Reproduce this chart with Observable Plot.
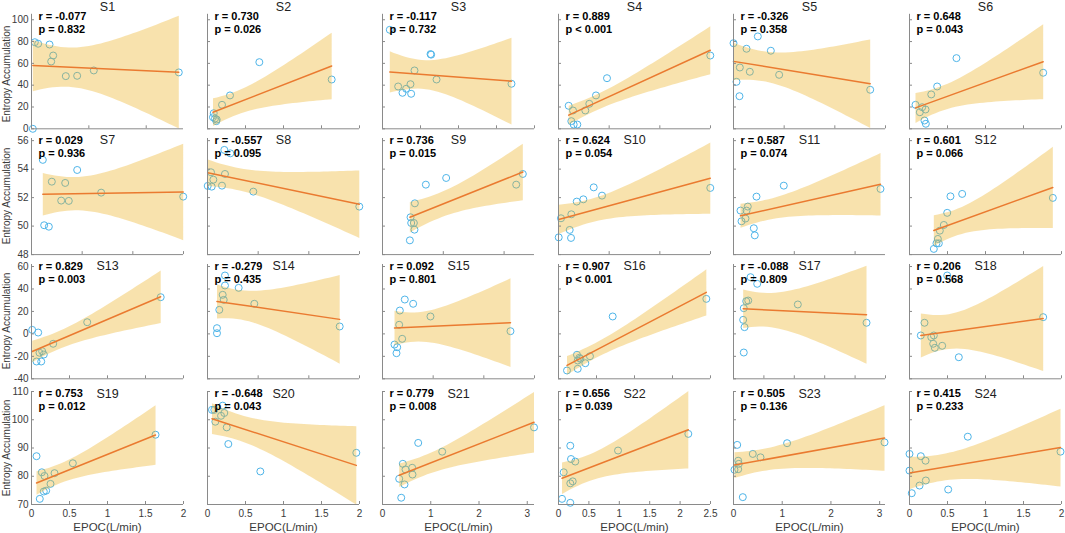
<!DOCTYPE html>
<html><head><meta charset="utf-8">
<script src="https://cdn.jsdelivr.net/npm/d3@7"></script>
<script src="https://cdn.jsdelivr.net/npm/@observablehq/plot@0.6"></script>
<style>
body{margin:0;background:#fff;}
#chart{position:relative;width:1065px;height:533px;overflow:hidden;background:#fff;}
#chart svg{position:absolute;overflow:visible;background:transparent;}
.ylab{position:absolute;left:1px;writing-mode:vertical-rl;transform:translateY(-50%) rotate(180deg);font-family:'Liberation Sans',Arial,Helvetica,sans-serif;font-size:10px;line-height:12px;color:#3a3a3a;white-space:nowrap;}
</style></head><body><div id="chart"></div>
<script>
const subjects = ["S1","S2","S3","S4","S5","S6","S7","S8","S9","S10","S11","S12","S13","S14","S15","S16","S17","S18","S19","S20","S21","S22","S23","S24"];
const rValues = [-0.077,0.730,-0.117,0.889,-0.326,0.648,0.029,-0.557,0.736,0.624,0.587,0.601,0.829,-0.279,0.092,0.907,-0.088,0.206,0.753,-0.648,0.779,0.656,0.505,0.415];
const pValues = ["= 0.832","= 0.026","= 0.732","< 0.001","= 0.358","= 0.043","= 0.936","= 0.095","= 0.015","= 0.054","= 0.074","= 0.066","= 0.003","= 0.435","= 0.801","< 0.001","= 0.809","= 0.568","= 0.012","= 0.043","= 0.008","= 0.039","= 0.136","= 0.233"];
const xMax = [2.65,2,2,3,3,2, 3,3,2.5,3,2.5,2, 2,3,3,2,2.5,2, 2,2,3.15,2.5,3.12,2];
const xTickSets = [
  [0,1,2],[0,0.5,1,1.5,2],[0,0.5,1,1.5,2],[0,1,2,3],[0,1,2,3],[0,0.5,1,1.5,2],
  [0,1,2,3],[0,1,2,3],[0,1,2],[0,1,2,3],[0,1,2],[0,0.5,1,1.5,2],
  [0,0.5,1,1.5,2],[0,1,2,3],[0,1,2,3],[0,0.5,1,1.5,2],[0,0.5,1,1.5,2,2.5],[0,0.5,1,1.5,2],
  [0,0.5,1,1.5,2],[0,0.5,1,1.5,2],[0,1,2,3],[0,0.5,1,1.5,2,2.5],[0,1,2,3],[0,0.5,1,1.5,2]
];
const rowYDomains = [[0,105],[48,56.15],[-40,61.8],[70,110]];
const rowYTicks = [[0,20,40,60,80,100],[48,50,52,54,56],[-40,-20,0,20,40,60],[70,80,90,100,110]];
const yLabel = "Entropy Accumulation";
const xLabel = "EPOC(L/min)";

const s1x = [0.058,0.116,0.314,0.378,0.343,0.598,0.796,1.086,2.568,0.023];
const s1y = [79.4,78.0,77.3,67.2,61.7,48.3,48.6,53.5,51.7,0];
const s2x = [0.682,1.634,0.296,0.191,0.082,0.072,0.121,0.116,0.099];
const s2y = [61.1,45.2,30.6,22.0,14.3,10.6,8.5,7.0,9.4];
const s3x = [0.632,0.640,0.421,0.711,1.697,0.206,0.311,0.368,0.263,0.377,0.096];
const s3y = [68.5,68.0,53.5,45.2,41.3,38.8,36.7,40.9,33.0,32.1,90.8];
const s4x = [2.996,0.957,0.74,0.608,0.529,0.201,0.286,0.253,0.3,0.371];
const s4y = [67.2,46.4,30.6,22.9,16.8,21.1,16.8,7.0,3.9,3.9];
const s5x = [0,0.48,0.257,0.737,0.125,0.322,0.901,0.059,0.118,2.698];
const s5y = [78.5,84.7,73.4,71.6,56.2,52.3,49.5,43.1,29.9,35.8];
const s6x = [0.618,1.759,0.364,0.286,0.079,0.167,0.211,0.136,0.197,0.215];
const s6y = [64.8,51.4,38.8,31.5,22.0,19.8,17.7,15.2,7.6,4.6];
const s7x = [0.223,0.902,0.401,0.665,1.375,0.586,0.736,2.994,0.25,0.342];
const s7y = [54.65,53.94,53.12,53.03,52.35,51.79,51.77,52.07,50.06,49.96];
const s8x = [0.332,0.45,0.069,0.345,0.115,0.004,0.083,0.286,0.904,2.996];
const s8y = [55.35,55.11,53.78,53.66,53.26,52.82,52.77,52.84,52.42,51.37];
const s9x = [2.308,2.199,1.047,0.713,0.532,0.461,0.472,0.516,0.526,0.45];
const s9y = [53.66,52.91,53.38,52.91,51.6,50.62,50.22,50.22,49.75,49.0];
const s10x = [2.996,0.695,0.859,0.49,0.36,0.253,0.049,0.221,0.004,0.247];
const s10y = [52.68,52.72,52.14,51.88,51.72,50.83,50.55,49.73,49.21,49.17];
const s11x = [2.418,0.827,0.378,0.235,0.115,0.214,0.132,0.197,0.334,0.35];
const s11y = [52.61,52.84,52.07,51.37,51.09,51.09,50.34,50.53,49.85,49.35];
const s12x = [1.886,0.539,0.693,0.496,0.452,0.399,0.373,0.355,0.386,0.32];
const s12y = [51.98,52.09,52.26,50.93,50.08,49.68,49.1,48.79,48.79,48.4];
const s13x = [1.70,0.733,0.009,0.088,0.285,0.105,0.14,0.162,0.066,0.128];
const s13y = [32.7,10.4,3.6,1.2,-8.8,-16.8,-15.4,-18.4,-24.6,-24.6];
const s14x = [0.345,0.345,0.615,0.3,0.32,0.233,0.924,0.187,0.187,2.609];
const s14y = [52.0,43.1,41.0,34.8,30.3,21.4,26.8,5.1,0.6,6.6];
const s15x = [0.44,0.605,0.342,0.947,0.329,2.526,0.388,0.237,0.29,0.276];
const s15y = [30.6,26.8,20.8,15.5,8.1,2.4,-4.4,-9.5,-11.9,-17.2];
const s16x = [1.945,0.713,0.243,0.274,0.414,0.253,0.353,0.253,0.112,0.287];
const s16y = [31.2,15.5,-18.6,-21.3,-19.9,-23.7,-26.1,-31.1,-32.6,-22.2];
const s17x = [0.28,0.39,0.209,0.242,1.058,0.169,0.159,0.181,2.188,0.169];
const s17y = [50.5,44.6,29.1,29.7,26.2,22.9,12.5,6.0,9.9,-16.6];
const s18x = [0.496,1.759,0.197,0.149,0.286,0.32,0.312,0.333,0.43,0.649];
const s18y = [52.0,14.9,9.9,-1.4,-2.9,-1.4,-8.8,-12.4,-10.6,-20.8];
const s19x = [1.632,0.544,0.066,0.136,0.171,0.303,0.25,0.162,0.193,0.109];
const s19y = [94.7,84.6,87.1,81.4,80.1,81.1,77.3,74.6,74.9,72.0];
const s20x = [0.059,0.09,0.2,0.221,0.178,0.103,0.253,0.274,0.695,1.958];
const s20y = [103.5,103.5,105.0,102.4,101.4,99.3,97.3,91.4,81.7,88.3];
const s21x = [3.14,0.74,1.237,0.421,0.477,0.615,0.622,0.346,0.456,0.388];
const s21y = [97.3,91.8,88.7,84.4,82.4,83.0,80.6,79.1,77.1,72.4];
const s22x = [2.135,0.979,0.194,0.206,0.276,0.086,0.194,0.234,0.058,0.194];
const s22y = [95.0,89.1,90.8,86.1,85.2,81.4,77.5,78.2,72.0,70.6];
const s23x = [3.10,1.10,0.076,0.396,0.554,0.096,0.109,0.02,0.096,0.191];
const s23y = [92.0,91.7,91.1,87.9,86.7,85.5,84.4,82.3,82.5,72.6];
const s24x = [1.987,0.767,0,0.149,0.211,0,0.215,0.132,0.509,0.03];
const s24y = [88.7,94.0,87.9,87.1,85.5,82.0,78.5,76.7,75.3,74.0];

const xsAll = [s1x,s2x,s3x,s4x,s5x,s6x,s7x,s8x,s9x,s10x,s11x,s12x,s13x,s14x,s15x,s16x,s17x,s18x,s19x,s20x,s21x,s22x,s23x,s24x];
const ysAll = [s1y,s2y,s3y,s4y,s5y,s6y,s7y,s8y,s9y,s10y,s11y,s12y,s13y,s14y,s15y,s16y,s17y,s18y,s19y,s20y,s21y,s22y,s23y,s24y];

// layout (pixels)
const colX = [31, 206.5, 382, 557.5, 733, 909];
const panelW = 152;
const rowTop = [13.8, 137.9, 264, 391];
const rowH = [114.5, 116.1, 114.3, 113];

const FONT = "'Liberation Sans', Arial, Helvetica, sans-serif";
const axisColor = "#8a8a8a";
const labelColor = "#3a3a3a";
const chart = document.getElementById("chart");

subjects.forEach((name, i) => {
  const row = Math.floor(i / 6), col = i % 6;
  const data = xsAll[i].map((x, k) => ({x, y: ysAll[i][k]}));
  const mL = col === 0 ? 31 : 10, mR = 10, mT = row === 0 ? 13.8 : 16, mB = row === 3 ? 34 : 8;
  const yd = rowYDomains[row];
  const marks = [
    Plot.dot(data, {x: "x", y: "y", r: 3.5, stroke: "#4db4e8", strokeWidth: 1, fill: "none"}),
    Plot.linearRegressionY(data, {x: "x", y: "y", stroke: "#ea7a30", strokeWidth: 1.5, fill: "#EDB120", fillOpacity: 0.37}),
    Plot.ruleX([0], {stroke: axisColor, strokeWidth: 1}),
    Plot.ruleY([yd[0]], {stroke: axisColor, strokeWidth: 1}),
    Plot.axisY({ticks: rowYTicks[row], tickSize: -3, stroke: axisColor, fill: "none", label: null}),
    Plot.axisX({ticks: xTickSets[i], tickSize: -3, stroke: axisColor, fill: "none", label: null}),
    Plot.text([`r = ${rValues[i].toFixed(3)}`], {text: d => d, frameAnchor: "top-left", dx: 7, dy: 2, lineAnchor: "middle", textAnchor: "start", fontWeight: "bold", fontSize: 11, fill: "#000"}),
    Plot.text([`p ${pValues[i]}`], {text: d => d, frameAnchor: "top-left", dx: 7, dy: 15, lineAnchor: "middle", textAnchor: "start", fontWeight: "bold", fontSize: 11, fill: "#000"}),
    Plot.text([name], {text: d => d, frameAnchor: "top", dy: row === 0 ? -7.5 : 2, lineAnchor: "middle", fontSize: 12.5, fill: "#222"})
  ];
  if (col === 0) {
    marks.push(Plot.axisY({ticks: rowYTicks[row], tickSize: 0, tickPadding: 3, tickFormat: d => String(d), fill: labelColor, stroke: "none", fontSize: 10, label: null}));
  }
  if (row === 3) {
    marks.push(Plot.axisX({ticks: xTickSets[i], tickSize: 0, tickPadding: 5, tickFormat: d => String(d), fill: labelColor, stroke: "none", fontSize: 10, label: null}));
    marks.push(Plot.text([xLabel], {text: d => d, frameAnchor: "bottom", dy: 23, lineAnchor: "middle", fontSize: 11.5, fill: labelColor}));
  }
  const svg = Plot.plot({
    width: mL + panelW + mR,
    height: mT + rowH[row] + mB,
    marginLeft: mL, marginRight: mR, marginTop: mT, marginBottom: mB,
    x: {domain: [0, xMax[i]]},
    y: {domain: yd},
    style: {fontFamily: FONT, fontSize: "10px", background: "transparent", overflow: "visible"},
    marks
  });
  svg.style.left = (colX[col] - mL) + "px";
  svg.style.top = (rowTop[row] - mT) + "px";
  chart.appendChild(svg);
});

// y-axis titles (one per row), rotated
rowTop.forEach((t, row) => {
  const d = document.createElement("div");
  d.className = "ylab";
  d.textContent = yLabel;
  d.style.top = (t + rowH[row] / 2 + (row === 0 ? 3 : 0)) + "px";
  chart.appendChild(d);
});
</script>
</body></html>
